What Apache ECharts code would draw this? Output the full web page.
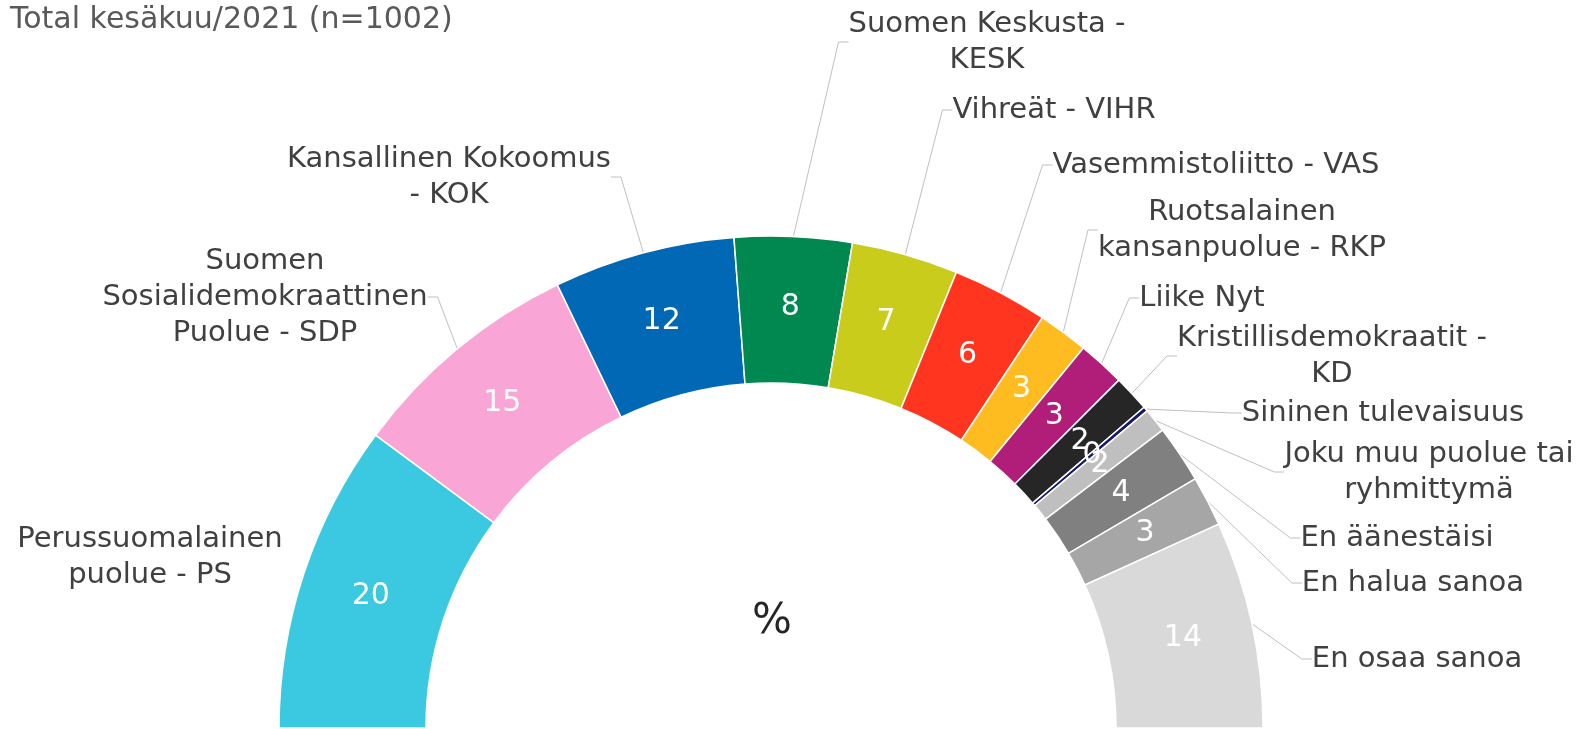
<!DOCTYPE html>
<html>
<head>
<meta charset="utf-8">
<script src="https://cdn.jsdelivr.net/npm/echarts@6/dist/echarts.min.js"></script>
<style>
  html, body { margin: 0; padding: 0; background: #fff; }
  #chart { width: 1584px; height: 729px; }
</style>
</head>
<body>
<div id="chart"></div>
<script>
// ----------data----------
const titleText = 'Total kesäkuu/2021 (n=1002)';
const centerText = '%';
const parties = [
  'Perussuomalainen\npuolue - PS',
  'Suomen\nSosialidemokraattinen\nPuolue - SDP',
  'Kansallinen Kokoomus\n- KOK',
  'Suomen Keskusta -\nKESK',
  'Vihreät - VIHR',
  'Vasemmistoliitto - VAS',
  'Ruotsalainen\nkansanpuolue - RKP',
  'Liike Nyt',
  'Kristillisdemokraatit -\nKD',
  'Sininen tulevaisuus',
  'Joku muu puolue tai\nryhmittymä',
  'En äänestäisi',
  'En halua sanoa',
  'En osaa sanoa'
];
const shares = [20.3, 15.4, 11.9, 7.7, 7.0, 6.3, 3.3, 3.1, 2.4, 0.3, 1.6, 3.8, 3.3, 13.6];
const colors = [
  '#3AC9E0', '#F9A5D6', '#0068B4', '#008851', '#CACC1C', '#FF3520', '#FFBC20',
  '#B01E7A', '#262626', '#14196E', '#BFBFBF', '#808080', '#A6A6A6', '#D9D9D9'
];
// ------------------------

// ----------label layout (name labels placed like the original)----------
const labelCenters = [
  [150, 557], [265, 297], [449, 177], [987, 42], [1054, 110], [1216, 165], [1242, 230],
  [1202, 298], [1332, 356], [1383, 413], [1429, 472], [1397, 538], [1413, 583], [1417, 659]
];
// -----------------------------------------------------------------------

const chart = echarts.init(document.getElementById('chart'));
const font = '"DejaVu Sans", Verdana, sans-serif';

const base = {
  type: 'pie',
  center: [771, 728],
  radius: [345, 492],
  startAngle: 180,
  endAngle: 0,
  clockwise: true,
  avoidLabelOverlap: false,
  minShowLabelAngle: 0,
  animation: false,
  silent: true
};

chart.setOption({
  animation: false,
  title: {
    text: titleText,
    left: 5,
    top: 0,
    textStyle: { fontFamily: font, fontSize: 30, fontWeight: 'normal', color: '#595959' }
  },
  graphic: [{
    type: 'text',
    x: 772,
    y: 622,
    style: {
      text: centerText,
      fontFamily: font,
      fontSize: 42,
      fill: '#262626',
      align: 'center',
      verticalAlign: 'middle'
    }
  }],
  series: [
    // slices + values
    {
      ...base,
      data: parties.map((name, i) => ({
        name,
        value: shares[i],
        itemStyle: { color: colors[i] }
      })),
      itemStyle: { borderColor: '#fff', borderWidth: 1.5 },
      label: {
        position: 'inside',
        formatter: (p) => String(Math.round(p.value)),
        fontFamily: font,
        fontSize: 30,
        color: '#fff'
      },
      labelLine: { show: false },
      labelLayout: { hideOverlap: false }
    },
    // names with leader lines
    {
      ...base,
      data: parties.map((name, i) => ({
        name,
        value: shares[i],
        labelLine: i === 0 ? { show: false, length: 2, length2: 2 } : undefined
      })),
      itemStyle: { color: 'rgba(0,0,0,0)', borderWidth: 0 },
      label: {
        position: 'outside',
        formatter: '{b}',
        fontFamily: font,
        fontSize: 29,
        lineHeight: 36,
        color: '#404040'
      },
      labelLine: {
        show: true,
        length: 10,
        length2: 10,
        lineStyle: { color: '#BFBFBF', width: 1 }
      },
      labelLayout: (p) => ({
        x: labelCenters[p.dataIndex][0],
        y: labelCenters[p.dataIndex][1],
        align: 'center',
        verticalAlign: 'middle'
      })
    }
  ]
});
</script>
</body>
</html>
